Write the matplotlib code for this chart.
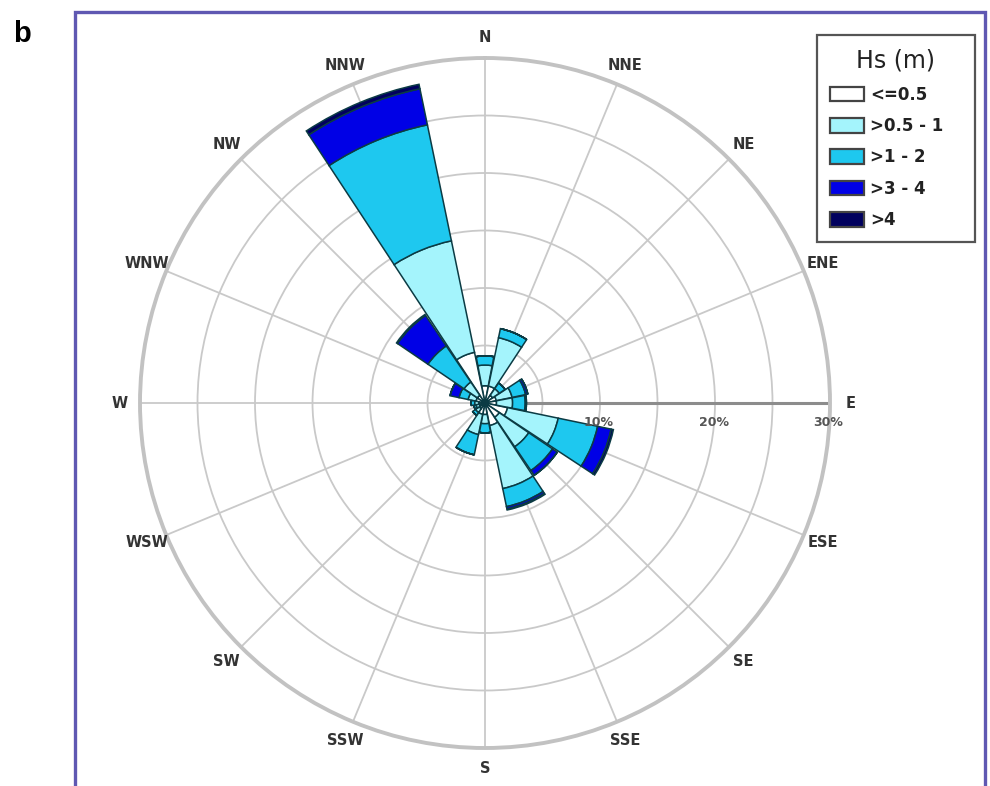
import numpy as np
import matplotlib
matplotlib.use("Agg")
import matplotlib.pyplot as plt
from matplotlib.patches import Rectangle, Patch

# ---------------- data ----------------
directions = ['N', 'NNE', 'NE', 'ENE', 'E', 'ESE', 'SE', 'SSE',
              'S', 'SSW', 'SW', 'WSW', 'W', 'WNW', 'NW', 'NNW']
classes = ['<=0.5', '>0.5 - 1', '>1 - 2', '>3 - 4', '>4']
class_colors = ['#FFFFFF', '#A4F4FC', '#1EC8EF', '#0000E6', '#00005E']

# frequency (%) per direction for each Hs class
hs_le_05 = [1.5, 1.5, 0.8, 1.0, 1.0, 2.0, 1.5, 2.0, 1.0, 1.0, 0.6, 0.5, 0.5, 0.8, 0.8, 4.5]
hs_05_1 = [1.8, 4.3, 0.7, 1.4, 1.4, 4.5, 3.1, 5.6, 0.8, 1.8, 0.4, 0.3, 0.4, 0.7, 1.4, 9.9]
hs_1_2 = [0.8, 0.8, 0.6, 1.2, 1.1, 3.5, 2.5, 1.6, 0.8, 1.8, 0.3, 0.2, 0.3, 0.8, 3.8, 10.3]
hs_3_4 = [0.0, 0.0, 0.0, 0.2, 0.1, 1.2, 0.5, 0.2, 0.0, 0.0, 0.0, 0.0, 0.0, 0.8, 3.2, 3.2]
hs_gt_4 = [0.0, 0.0, 0.0, 0.0, 0.0, 0.2, 0.0, 0.1, 0.0, 0.0, 0.0, 0.0, 0.0, 0.0, 0.1, 0.4]

ring_values = [5, 10, 15, 20, 25, 30]
ring_labels = {10: '10%', 20: '20%', 30: '30%'}

# ---------------- figure ----------------
W, H = 990, 786
fig = plt.figure(figsize=(W / 100, H / 100), dpi=100)
fig.patch.set_facecolor('white')

cx, cy, R = 485, 403, 345
ax = fig.add_axes([(cx - R) / W, (H - cy - R) / H, 2 * R / W, 2 * R / H],
                  projection='polar')
ax.set_theta_zero_location('N')
ax.set_theta_direction(-1)
ax.set_ylim(0, 30)
ax.set_facecolor('none')

n = len(directions)
theta = np.deg2rad(np.arange(n) * 360.0 / n)
width = np.deg2rad(360.0 / n) * 0.96

layers = [hs_le_05, hs_05_1, hs_1_2, hs_3_4, hs_gt_4]
bottom = np.zeros(n)
for vals, col in zip(layers, class_colors):
    v = np.array(vals)
    ax.bar(theta, v, width=width, bottom=bottom, color=col,
           edgecolor='#0b3b44', linewidth=1.1, zorder=3)
    bottom = bottom + v

# grid
ax.set_rgrids(ring_values, labels=[])
ax.set_thetagrids(np.arange(0, 360, 360.0 / n), labels=[])
ax.grid(True, color='#c9c9c9', linewidth=1.3)
ax.spines['polar'].set_color('#c2c2c2')
ax.spines['polar'].set_linewidth(2.8)
ax.tick_params(length=0)

# E axis line
ax.plot([np.pi / 2, np.pi / 2], [0, 30], color='#8c8c8c', lw=2.2, zorder=2)
for rv, lab in ring_labels.items():
    ax.annotate(lab, xy=(np.pi / 2, rv), xytext=(-1, -9),
                textcoords='offset points', ha='center', va='top',
                fontsize=9, fontweight='bold', color='#555555', zorder=5)

# direction labels
for t, d in zip(theta, directions):
    ax.text(t, 31.8, d, ha='center', va='center', fontsize=10.5,
            fontweight='bold', color='#333333', clip_on=False)

# legend
handles = [Patch(facecolor=c, edgecolor='#444444', linewidth=1.6) for c in class_colors]
leg = fig.legend(handles, classes, title='Hs (m)', loc='upper left',
                 bbox_to_anchor=(817 / W, 1 - 241 / H, 158 / W, 206 / H),
                 mode='expand', borderaxespad=0,
                 frameon=True, fancybox=False, edgecolor='#555555', framealpha=1,
                 handlelength=2.0, handleheight=1.0, handletextpad=0.4,
                 labelspacing=0.8, borderpad=0.8,
                 prop={'weight': 'bold', 'size': 12},
                 title_fontproperties={'size': 17})
leg.get_frame().set_linewidth(1.6)
for txt in leg.get_texts():
    txt.set_color('#222222')
leg.get_title().set_color('#222222')

# outer purple frame
fig.add_artist(Rectangle((75 / W, -0.05), (985 - 75) / W, (H - 12) / H + 0.05,
                         transform=fig.transFigure, fill=False,
                         edgecolor='#5f58b2', linewidth=2.4, zorder=0))

fig.text(13 / W, 1 - 42 / H, 'b', fontsize=21, fontweight='bold',
         family='Liberation Sans', ha='left', va='baseline')

fig.savefig('out.png', dpi=100, facecolor='white')
